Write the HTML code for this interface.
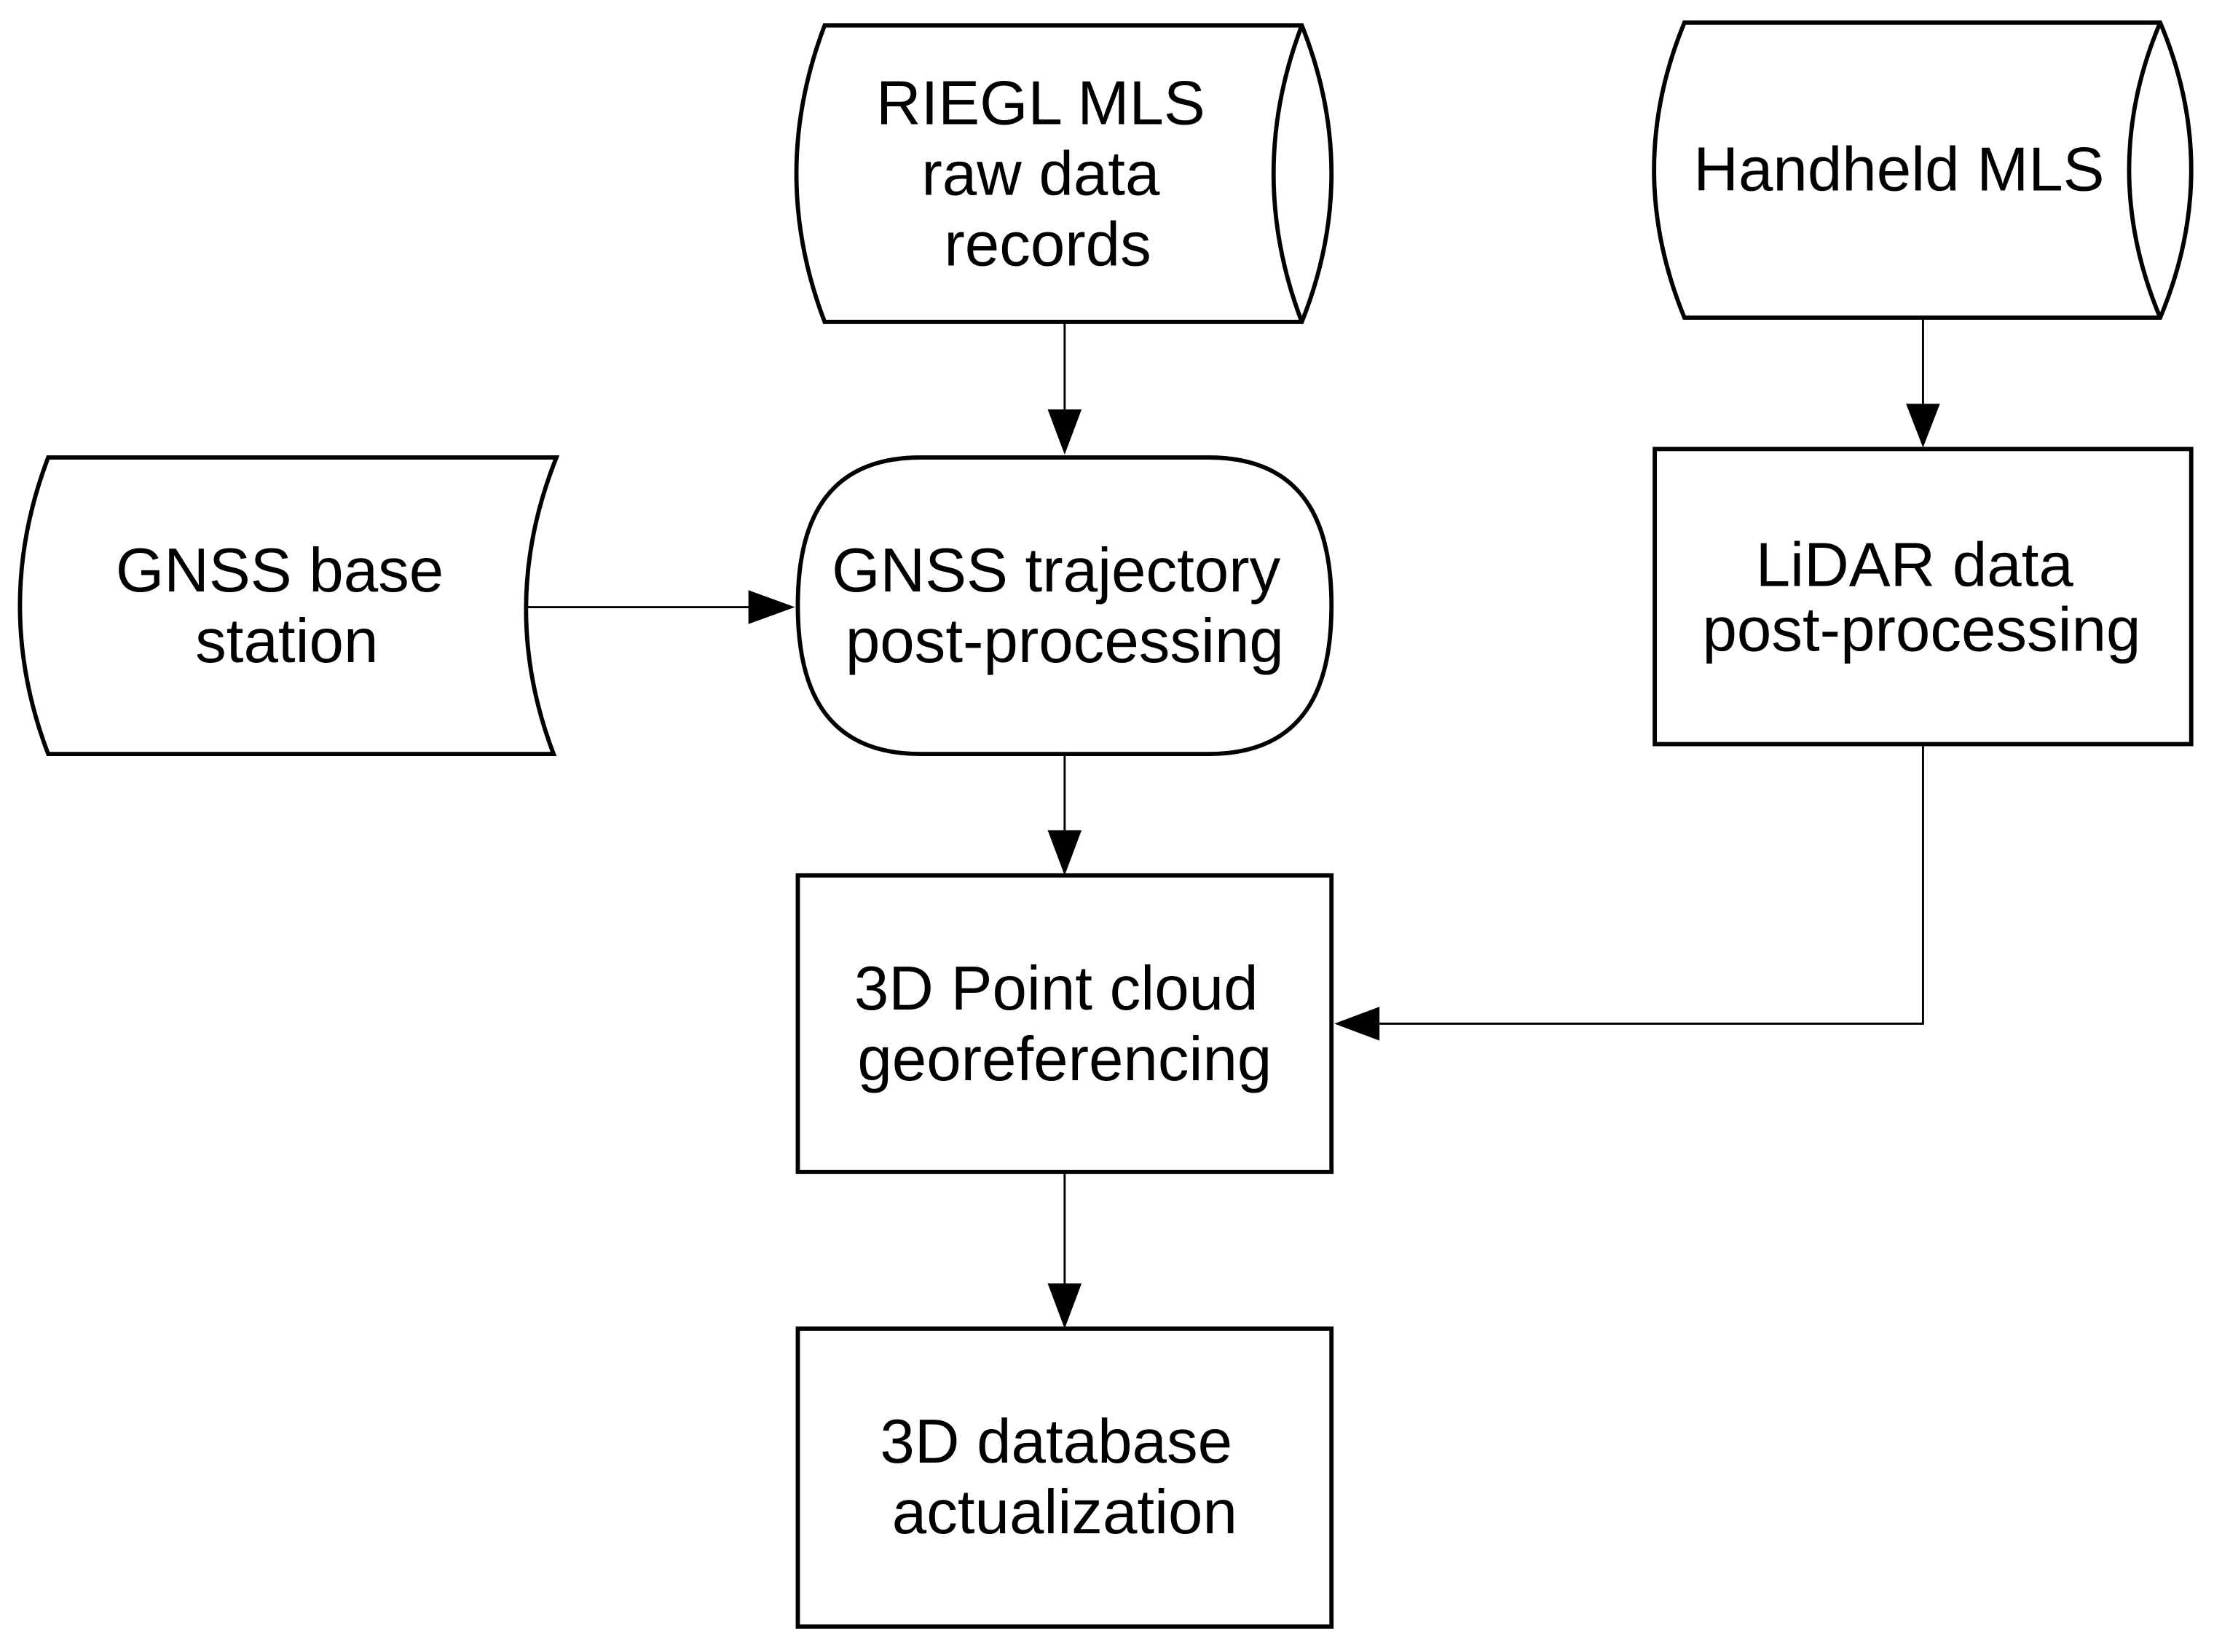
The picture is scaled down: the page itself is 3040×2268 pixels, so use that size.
<!DOCTYPE html>
<html><head><style>html,body{margin:0;padding:0;background:#fff}svg{display:block}</style></head><body>
<svg width="3040" height="2268" viewBox="0 0 1568 1170" xmlns="http://www.w3.org/2000/svg" font-family="Liberation Sans, sans-serif" font-size="44" text-anchor="middle">
<g fill="none" stroke="#000" stroke-width="3">
<path d="M584,18 H922 Q964,123 922,228 H584 Q544,123 584,18 Z" fill="#fff"/>
<path d="M922,18 Q882,123 922,228"/>
<path d="M1193,16 H1530 Q1574,120 1530,225 H1193 Q1150,120 1193,16 Z" fill="#fff"/>
<path d="M1530,16 Q1486,120 1530,225"/>
<path d="M34,324 H394 Q352,429 392,534 H34 Q-6,429 34,324 Z" fill="#fff"/>
<path d="M652,324 H856 C930,324 943,380 943,429 C943,478 930,534 856,534 H652 C578,534 565,478 565,429 C565,380 578,324 652,324 Z" fill="#fff"/>
<rect x="1172" y="318" width="380" height="209"/>
<rect x="565" y="620" width="378" height="210"/>
<rect x="565" y="941" width="378" height="211"/>
</g>
<g stroke="#000" stroke-width="1.5" fill="none">
<path d="M754,228 V290"/><path d="M1362,225 V286"/><path d="M373,430 H532"/>
<path d="M754,534 V588"/><path d="M754,830 V909"/><path d="M1362,527 V725 H977"/>
</g>
<g fill="#000">
<path d="M742,290 L766,290 L754,322 Z"/>
<path d="M1350,286 L1374,286 L1362,317 Z"/>
<path d="M530,418 L530,442 L563,430 Z"/>
<path d="M742,588 L766,588 L754,620 Z"/>
<path d="M742,909 L766,909 L754,941 Z"/>
<path d="M977,713 L977,737 L945,725 Z"/>
</g>
<g fill="#000">
<text x="737" y="88">RIEGL MLS</text><text x="737" y="138">raw data</text><text x="742" y="188">records</text>
<text x="1345" y="135">Handheld MLS</text>
<text x="198" y="419">GNSS base</text><text x="203" y="469">station</text>
<text x="748" y="419">GNSS trajectory</text><text x="754" y="469">post-processing</text>
<text x="1356" y="415">LiDAR data</text><text x="1361" y="461">post-processing</text>
<text x="748" y="715">3D Point cloud</text><text x="754" y="765">georeferencing</text>
<text x="748" y="1036">3D database</text><text x="754" y="1086">actualization</text>
</g>
</svg>
</body></html>
